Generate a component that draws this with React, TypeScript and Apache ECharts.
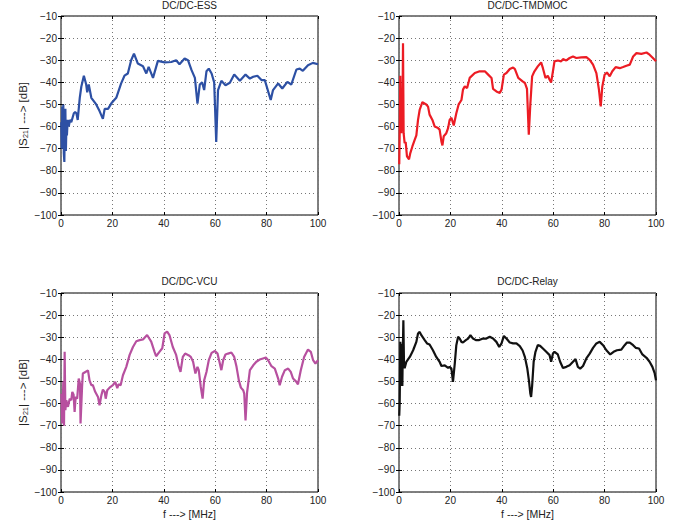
import React, { useEffect, useRef } from "react";
import * as echarts from "echarts";

// ---------- data ----------
const titles = ["DC/DC-ESS", "DC/DC-TMDMOC", "DC/DC-VCU", "DC/DC-Relay"];
const yName = "|S\u2082\u2081| ---> [dB]";
const xName = "f ---> [MHz]";

const essFreq = [0.1, 0.3, 0.5, 0.7, 0.9, 1.1, 1.3, 1.5, 1.7, 1.9, 2.1, 2.3, 2.6, 3.0, 3.5, 4.0, 4.5, 5.0, 5.5, 6.0, 6.5, 7.3, 7.9, 8.9, 9.8, 10.2, 10.8, 11.8, 13.7, 15.0, 16.3, 17.0, 18.3, 19.6, 21.5, 23.4, 24.7, 26.0, 27.3, 28.4, 29.9, 31.9, 33.2, 34.1, 35.8, 37.7, 40.3, 42.9, 44.8, 46.1, 48.1, 49.4, 50.8, 52.1, 53.1, 54.0, 54.9, 55.7, 56.6, 57.5, 58.6, 59.6, 60.4, 61.1, 62.4, 64.0, 65.7, 67.4, 69.6, 71.8, 73.5, 74.8, 76.4, 78.0, 79.3, 81.6, 82.5, 84.5, 86.1, 88.1, 89.6, 91.6, 92.9, 94.1, 96.1, 98.0, 100];
const essDb = [-58, -70, -51, -66, -50, -72, -76, -55, -52, -71, -60, -64, -57, -60, -57, -58, -56, -54, -53.5, -54, -57, -47, -42, -37, -41, -44.5, -41, -47, -50, -53, -56.5, -52, -52, -49.5, -47, -40.5, -37, -36, -30, -27, -31.5, -32.7, -36, -33, -38, -30.3, -31, -30.8, -30, -31.8, -29.2, -30, -34.5, -38, -49.6, -41, -40, -43.5, -35, -33.8, -36, -40, -67, -43.5, -39.3, -41.3, -40.2, -36.5, -39.3, -36.5, -38.3, -37.5, -37, -39, -39, -48, -43.5, -40.5, -42.8, -39.8, -41, -34.2, -33.8, -34.8, -32.3, -31.2, -31.8];

const tmFreq = [0.1, 0.3, 0.5, 0.7, 0.9, 1.1, 1.3, 1.56, 1.8, 2.2, 2.6, 3.1, 3.9, 4.4, 5.2, 6.1, 6.75, 7.4, 8.05, 9.1, 10.6, 11.3, 11.9, 13.0, 13.9, 15.2, 15.8, 16.5, 16.9, 17.4, 18.4, 19.1, 19.7, 20.4, 21.3, 22.3, 23.2, 24.3, 24.9, 25.6, 26.5, 27.5, 29.5, 31.4, 33.4, 34.7, 36.0, 36.6, 37.9, 39.2, 39.9, 40.8, 41.8, 43.1, 44.4, 45.1, 46.4, 48.1, 49.0, 49.8, 50.5, 51.1, 51.8, 52.7, 54.0, 55.3, 56.0, 57.0, 57.9, 58.6, 59.2, 59.9, 60.5, 61.8, 63.1, 63.8, 65.1, 66.4, 67.7, 69.0, 70.9, 72.9, 74.2, 75.5, 76.8, 77.8, 78.5, 79.1, 80.0, 80.9, 82.0, 83.0, 84.3, 85.9, 87.2, 88.5, 89.8, 91.1, 92.4, 94.3, 96.3, 97.5, 98.8, 100];
const tmDb = [-77, -60, -37, -55, -63, -45, -62, -22.3, -63, -67.5, -67, -73.5, -74.8, -72, -69, -66, -64, -57, -52.4, -49, -50, -51, -54.6, -57, -60, -60.7, -61.4, -66.7, -68.5, -64.4, -63, -60.7, -57, -56, -59.5, -54, -50, -48, -43.3, -41.8, -42.6, -38, -35.8, -35, -35, -36.5, -38, -43, -44.1, -44.8, -43.3, -36.5, -35.8, -34, -33.3, -34, -38, -39.6, -40.3, -43, -63.7, -50, -37.3, -35, -32.8, -31, -33.6, -38, -37, -38.8, -40, -35, -30.5, -30.1, -30.5, -29.5, -30.1, -29, -28.3, -29, -28.7, -28.6, -29.8, -32, -35.8, -43.3, -50.9, -42, -36.6, -35.5, -37.3, -35, -33.1, -33.6, -33.1, -32.5, -32, -28.3, -26.8, -27.1, -26.5, -27.5, -29, -30.5];

const vcuFreq = [0.13, 0.5, 0.9, 1.17, 1.42, 1.7, 2.07, 2.7, 3.4, 4.0, 4.4, 4.9, 5.3, 5.7, 6.3, 6.9, 7.4, 7.6, 8.2, 8.5, 9.5, 10.5, 11.1, 11.8, 12.4, 13.3, 14.4, 15.0, 15.7, 16.3, 17.0, 17.4, 18.0, 18.9, 20.2, 21.1, 21.9, 22.4, 23.2, 24.1, 25.4, 26.7, 28.0, 29.3, 30.6, 31.9, 33.5, 35.1, 36.4, 37.0, 38.3, 39.4, 40.3, 41.3, 42.2, 43.5, 44.8, 45.7, 46.5, 47.4, 48.3, 49.6, 50.5, 51.4, 52.3, 53.1, 53.6, 54.4, 55.1, 55.7, 56.6, 57.5, 58.6, 59.9, 60.9, 61.8, 62.4, 63.1, 64.0, 65.0, 66.3, 67.4, 68.3, 69.2, 70.0, 70.9, 71.3, 71.8, 72.4, 73.5, 74.8, 76.0, 77.3, 78.6, 79.7, 80.6, 81.9, 83.2, 84.5, 85.1, 86.0, 87.1, 88.4, 89.4, 90.3, 91.6, 92.2, 93.3, 94.6, 96.1, 97.2, 98.1, 99.0, 100];
const vcuDb = [-55.5, -69, -50, -70, -36.6, -63, -58.5, -61.5, -57.8, -58.5, -54.7, -56, -63.8, -57, -57.8, -48.7, -51, -69, -52.5, -46.4, -45.7, -45, -49.5, -51.7, -51.7, -54.7, -57, -60.8, -56.3, -53.7, -54.7, -57.8, -54, -52.8, -51.7, -50.2, -53, -51.3, -51.7, -47.2, -43.4, -38, -34.4, -31.8, -31.3, -31, -29, -32, -36.6, -38.6, -36.6, -35, -28.3, -27.5, -29, -34.4, -38, -42.7, -45.7, -38.9, -37.4, -38.1, -38.9, -41.1, -46.4, -43.4, -44.9, -52.5, -57.8, -49.5, -45.7, -40.4, -37.1, -36.2, -37.4, -41.9, -44.9, -40.4, -37.8, -37.4, -36.9, -38.9, -43.4, -49.5, -52.8, -54, -55.5, -67.6, -55, -44.9, -42.7, -41.1, -40.1, -39.6, -39.2, -40.4, -43.1, -44.2, -48.7, -51.7, -47.9, -44.9, -44.2, -45.7, -48.7, -50.2, -51.3, -44.9, -38.9, -35.6, -36.6, -40.4, -41.9, -40.4];

const relFreq = [0.1, 0.26, 0.4, 0.5, 0.65, 0.8, 0.9, 1.05, 1.17, 1.3, 1.43, 1.7, 1.95, 2.2, 2.86, 4.2, 5.5, 6.75, 7.4, 8.05, 8.7, 10.0, 10.9, 11.9, 13.2, 14.5, 15.8, 16.5, 17.8, 19.1, 19.7, 20.4, 21.0, 21.7, 22.3, 23.0, 23.6, 24.3, 24.9, 26.0, 26.9, 27.8, 28.8, 29.9, 31.2, 32.7, 34.0, 35.3, 36.6, 37.9, 39.0, 39.9, 40.8, 41.8, 43.1, 44.4, 45.7, 47.0, 48.1, 49.0, 49.9, 50.6, 51.1, 51.4, 51.8, 52.4, 53.1, 54.0, 54.9, 56.0, 57.3, 58.6, 59.2, 59.9, 60.5, 61.8, 62.7, 63.8, 65.1, 66.4, 67.7, 68.7, 69.6, 70.5, 71.6, 72.9, 74.2, 75.5, 76.8, 78.1, 79.4, 80.7, 82.2, 83.5, 84.8, 86.5, 87.8, 88.7, 89.8, 91.1, 92.1, 93.4, 94.7, 96.3, 97.5, 98.6, 99.5, 100];
const relDb = [-65.5, -60, -46, -32, -50, -52, -38, -45, -33, -52, -40, -22.3, -42.7, -44, -41.1, -38.9, -35.9, -32.1, -28.3, -27.6, -29.1, -31.3, -32.8, -33.3, -35.9, -38.9, -41.1, -43, -42.7, -43.9, -43.4, -44.2, -50.2, -41.9, -33.6, -29.8, -30.6, -32.1, -32.4, -31.3, -30.6, -29.1, -30.6, -31.3, -31.3, -30.6, -30.6, -29.8, -30.6, -32.1, -34.4, -32.8, -29.4, -30.6, -32.4, -32.8, -32.8, -34, -36, -39, -44, -50, -55.5, -57, -52, -41.1, -36.6, -33.6, -33.9, -35.1, -36.6, -38.1, -41.1, -37.4, -36.6, -37.8, -41.1, -43.9, -43.4, -42.7, -41.1, -39.9, -43.4, -44.2, -43, -39.6, -37.4, -34.8, -32.8, -32.1, -33.6, -35.9, -37.8, -36.6, -35.9, -35.6, -33.6, -32.4, -32.4, -33.6, -34.8, -35.1, -37.8, -39.3, -41.1, -43.4, -46.4, -49.5];

// ---------- layout / style ----------
const FONT = "'Liberation Sans', Arial, Helvetica, sans-serif";
const TXT = "#222";
const colors = ["#2d50a4", "#ec1c24", "#b7509f", "#111111"];
const rects = [
  { left: 61, top: 16, width: 257, height: 199 },
  { left: 399, top: 16, width: 257, height: 199 },
  { left: 61, top: 293, width: 257, height: 199 },
  { left: 399, top: 293, width: 257, height: 199 },
];

const zip = (a: number[], b: number[]) => a.map((v, i) => [v, b[i]]);
const fmt = (v: number) => (v < 0 ? "\u2212" + Math.abs(v) : String(v));

export default function App() {
  const ref = useRef<HTMLDivElement>(null);
  useEffect(() => {
    document.body.style.margin = "0";
    if (!ref.current) return;
    const chart = echarts.init(ref.current, undefined, { renderer: "svg" });
    const seriesData = [zip(essFreq, essDb), zip(tmFreq, tmDb), zip(vcuFreq, vcuDb), zip(relFreq, relDb)];
    const grid: any[] = [];
    const xAxis: any[] = [];
    const yAxis: any[] = [];
    const series: any[] = [];
    const graphic: any[] = [];
    const tick = { show: true, inside: true, length: 3, lineStyle: { color: "#000", width: 1 } };
    const split = { show: true, lineStyle: { color: "#777", width: 1, type: [1, 3] } };
    rects.forEach((r, i) => {
      grid.push({ ...r, show: true, borderColor: "#000", borderWidth: 1, backgroundColor: "transparent", containLabel: false });
      xAxis.push({
        type: "value", gridIndex: i, min: 0, max: 100, interval: 20, position: "bottom",
        axisLine: { show: false }, axisTick: tick, splitLine: split,
        axisLabel: { formatter: fmt, margin: 3, fontSize: 10, lineHeight: 11, color: TXT, fontFamily: FONT },
      });
      xAxis.push({
        type: "value", gridIndex: i, min: 0, max: 100, interval: 20, position: "top",
        axisLine: { show: false }, axisTick: tick, splitLine: { show: false }, axisLabel: { show: false },
      });
      yAxis.push({
        type: "value", gridIndex: i, min: -100, max: -10, interval: 10, position: "left",
        axisLine: { show: false }, axisTick: tick, splitLine: split,
        axisLabel: { formatter: fmt, margin: 4, fontSize: 10, color: TXT, fontFamily: FONT },
      });
      yAxis.push({
        type: "value", gridIndex: i, min: -100, max: -10, interval: 10, position: "right",
        axisLine: { show: false }, axisTick: tick, splitLine: { show: false }, axisLabel: { show: false },
      });
      series.push({
        type: "line", name: titles[i], xAxisIndex: 2 * i, yAxisIndex: 2 * i,
        data: seriesData[i], showSymbol: false, symbol: "none",
        lineStyle: { color: colors[i], width: 2.2 }, itemStyle: { color: colors[i] },
        z: 5,
      });
      const cx = r.left + r.width / 2;
      graphic.push({
        type: "text", x: cx, y: i < 2 ? 5 : 281,
        style: { text: titles[i], fill: TXT, fontSize: 10, fontFamily: FONT, textAlign: "center", textVerticalAlign: "middle", align: "center", verticalAlign: "middle" },
      });
      if (i % 2 === 0) {
        graphic.push({
          type: "text", x: 23, y: r.top + r.height / 2, rotation: Math.PI / 2,
          style: { text: yName, fill: TXT, fontSize: 11.5, fontFamily: FONT, textAlign: "center", textVerticalAlign: "middle", align: "center", verticalAlign: "middle" },
        });
      }
      if (i >= 2) {
        graphic.push({
          type: "text", x: cx, y: 514,
          style: { text: xName, fill: TXT, fontSize: 10.5, fontFamily: FONT, textAlign: "center", textVerticalAlign: "middle", align: "center", verticalAlign: "middle" },
        });
      }
    });
    chart.setOption({
      animation: false,
      backgroundColor: "#fff",
      grid, xAxis, yAxis, series, graphic,
    });
    return () => chart.dispose();
  }, []);
  return <div ref={ref} style={{ width: 688, height: 522 }} />;
}
